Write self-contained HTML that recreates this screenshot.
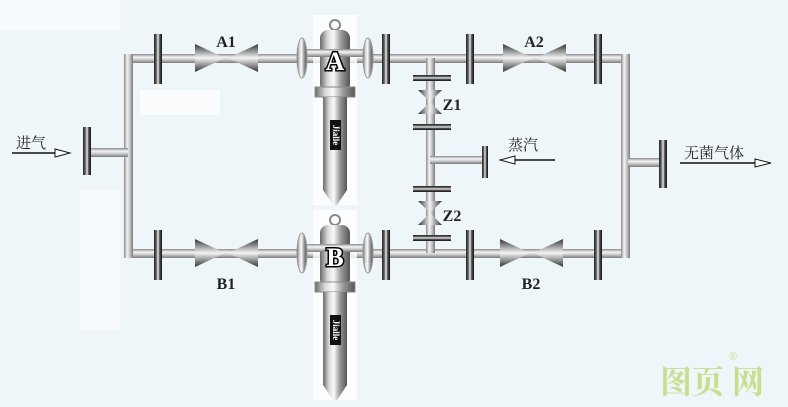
<!DOCTYPE html>
<html><head><meta charset="utf-8"><style>
html,body{margin:0;padding:0;background:#eef6fa;}
svg{display:block}
text{font-family:"Liberation Serif","Noto Serif CJK SC",serif;}
</style></head><body>
<svg width="788" height="407" viewBox="0 0 788 407" xmlns="http://www.w3.org/2000/svg">
<defs>
<linearGradient id="ph" x1="0" y1="0" x2="0" y2="1">
<stop offset="0" stop-color="#8a8a8a"/><stop offset="0.35" stop-color="#f4f4f4"/><stop offset="0.6" stop-color="#cfcfcf"/><stop offset="1" stop-color="#7a7a7a"/></linearGradient>
<linearGradient id="pv" x1="0" y1="0" x2="1" y2="0">
<stop offset="0" stop-color="#8a8a8a"/><stop offset="0.35" stop-color="#f4f4f4"/><stop offset="0.6" stop-color="#cfcfcf"/><stop offset="1" stop-color="#7a7a7a"/></linearGradient>
<linearGradient id="fl" x1="0" y1="0" x2="0" y2="1">
<stop offset="0" stop-color="#222"/><stop offset="0.3" stop-color="#666"/><stop offset="0.5" stop-color="#eee"/><stop offset="0.7" stop-color="#555"/><stop offset="1" stop-color="#111"/></linearGradient>
<linearGradient id="flh" x1="0" y1="0" x2="1" y2="0">
<stop offset="0" stop-color="#222"/><stop offset="0.3" stop-color="#666"/><stop offset="0.5" stop-color="#eee"/><stop offset="0.7" stop-color="#555"/><stop offset="1" stop-color="#111"/></linearGradient>
<linearGradient id="tri" x1="0" y1="0" x2="0" y2="1">
<stop offset="0" stop-color="#333"/><stop offset="0.5" stop-color="#f4f4f4"/><stop offset="1" stop-color="#333"/></linearGradient>
<linearGradient id="trv" x1="0" y1="0" x2="1" y2="0">
<stop offset="0" stop-color="#333"/><stop offset="0.5" stop-color="#f4f4f4"/><stop offset="1" stop-color="#333"/></linearGradient>
<linearGradient id="steel" x1="0" y1="0" x2="1" y2="0">
<stop offset="0" stop-color="#6a6a6a"/><stop offset="0.25" stop-color="#d8d8d8"/><stop offset="0.45" stop-color="#fafafa"/><stop offset="0.7" stop-color="#9a9a9a"/><stop offset="1" stop-color="#555"/></linearGradient>
<g id="filt">
<rect x="-22" y="-10" width="44" height="190" fill="#fff" opacity="0.8"/>
<circle cx="0" cy="0" r="5" fill="none" stroke="#888" stroke-width="2"/>
<rect x="-15" y="5" width="30" height="62" rx="8" fill="url(#steel)"/>
<rect x="-37" y="24" width="74" height="8" fill="url(#ph)"/>
<ellipse cx="-33" cy="33" rx="5" ry="20" fill="url(#steel)" stroke="#999"/>
<ellipse cx="33" cy="33" rx="5" ry="20" fill="url(#steel)" stroke="#999"/>
<rect x="-20" y="62" width="40" height="10" fill="url(#steel)" stroke="#888"/>
<path d="M-12 72 H12 V165 L2 180 H-2 L-12 165Z" fill="url(#steel)"/>
<rect x="-5" y="95" width="11" height="30" fill="#111"/>
<text x="0" y="110" transform="rotate(90 0 110)" fill="#fff" font-family="Liberation Sans" font-weight="bold" font-size="9" text-anchor="middle" dominant-baseline="middle">Jialle</text>
</g>
<g id="vlv"><path d="M0 -14 L30 0 L0 14Z" fill="url(#tri)"/><path d="M63 -14 L33 0 L63 14Z" fill="url(#tri)"/></g>
<g id="vz"><path d="M-12 -12 L12 -12 L0 0Z" fill="url(#trv)"/><path d="M-12 12 L12 12 L0 0Z" fill="url(#trv)"/></g>
</defs>
<rect x="0" y="0" width="120" height="30" fill="#fff" opacity="0.6"/>
<rect x="140" y="90" width="80" height="25" fill="#fff" opacity="0.7"/>
<rect x="80" y="190" width="40" height="140" fill="#fff" opacity="0.5"/>
<rect x="124" y="54" width="506" height="9" fill="url(#ph)"/>
<rect x="124" y="249" width="506" height="9" fill="url(#ph)"/>
<rect x="124" y="54" width="9" height="204" fill="url(#pv)"/>
<rect x="621" y="54" width="9" height="204" fill="url(#pv)"/>
<rect x="88" y="148" width="40" height="9" fill="url(#ph)"/>
<rect x="628" y="158" width="36" height="9" fill="url(#ph)"/>
<rect x="426" y="58" width="9" height="195" fill="url(#pv)"/>
<rect x="430" y="156" width="54" height="8" fill="url(#ph)"/>
<g fill="url(#flh)">
<rect x="83" y="127" width="8" height="48"/>
<rect x="659" y="140" width="8" height="48"/>
<rect x="482" y="146" width="6" height="32"/>
<rect x="154" y="34" width="8" height="50"/><rect x="154" y="230" width="8" height="50"/>
<rect x="382" y="34" width="8" height="50"/><rect x="382" y="230" width="8" height="50"/>
<rect x="466" y="34" width="8" height="50"/><rect x="466" y="230" width="8" height="50"/>
<rect x="594" y="34" width="8" height="50"/><rect x="594" y="230" width="8" height="50"/>
</g>
<g fill="url(#fl)">
<rect x="413" y="75" width="38" height="6"/><rect x="413" y="124" width="38" height="6"/>
<rect x="413" y="186" width="38" height="6"/><rect x="413" y="235" width="38" height="6"/>
</g>
<use href="#vlv" x="195" y="58"/><use href="#vlv" x="503" y="58"/>
<use href="#vlv" x="195" y="253"/><use href="#vlv" x="500" y="253"/>
<use href="#vz" x="430" y="102"/><use href="#vz" x="430" y="213"/>
<use href="#filt" x="335" y="25"/><use href="#filt" x="335" y="220"/>
<text x="335" y="70" font-family="Liberation Sans" font-weight="bold" font-size="26" fill="#fff" stroke="#000" stroke-width="3" paint-order="stroke" text-anchor="middle">A</text>
<text x="335" y="266" font-family="Liberation Sans" font-weight="bold" font-size="26" fill="#fff" stroke="#000" stroke-width="3" paint-order="stroke" text-anchor="middle">B</text>
<g font-size="16" fill="#222" text-anchor="middle" font-weight="bold">
<text x="226" y="47">A1</text><text x="534" y="47">A2</text>
<text x="226" y="289">B1</text><text x="531" y="289">B2</text>
<text x="452" y="110">Z1</text><text x="452" y="221">Z2</text>
</g>
<g font-size="15" fill="#222">
<text x="16" y="148" font-family="Noto Sans CJK SC,sans-serif">进气</text>
<text x="684" y="158" font-family="Noto Sans CJK SC,sans-serif">无菌气体</text>
<text x="508" y="150" font-family="Noto Sans CJK SC,sans-serif">蒸汽</text>
</g>
<path d="M12 153 H55" stroke="#111" stroke-width="1.5"/><path d="M55 149 L70 153 L55 157Z" fill="#fff" stroke="#111"/>
<path d="M680 163 H755" stroke="#111" stroke-width="1.5"/><path d="M755 159 L771 163 L755 167Z" fill="#fff" stroke="#111"/>
<path d="M515 160 H555" stroke="#111" stroke-width="1.5"/><path d="M500 160 L515 156 V164Z" fill="#fff" stroke="#111"/>
<text x="712" y="393" font-family="Noto Sans CJK SC,sans-serif" font-weight="bold" font-size="32" fill="#c8e08a" text-anchor="middle">图页 网</text>
<text x="733" y="360" font-family="Liberation Sans" font-size="12" fill="#c8e08a" text-anchor="middle">®</text>
</svg>
</body></html>
